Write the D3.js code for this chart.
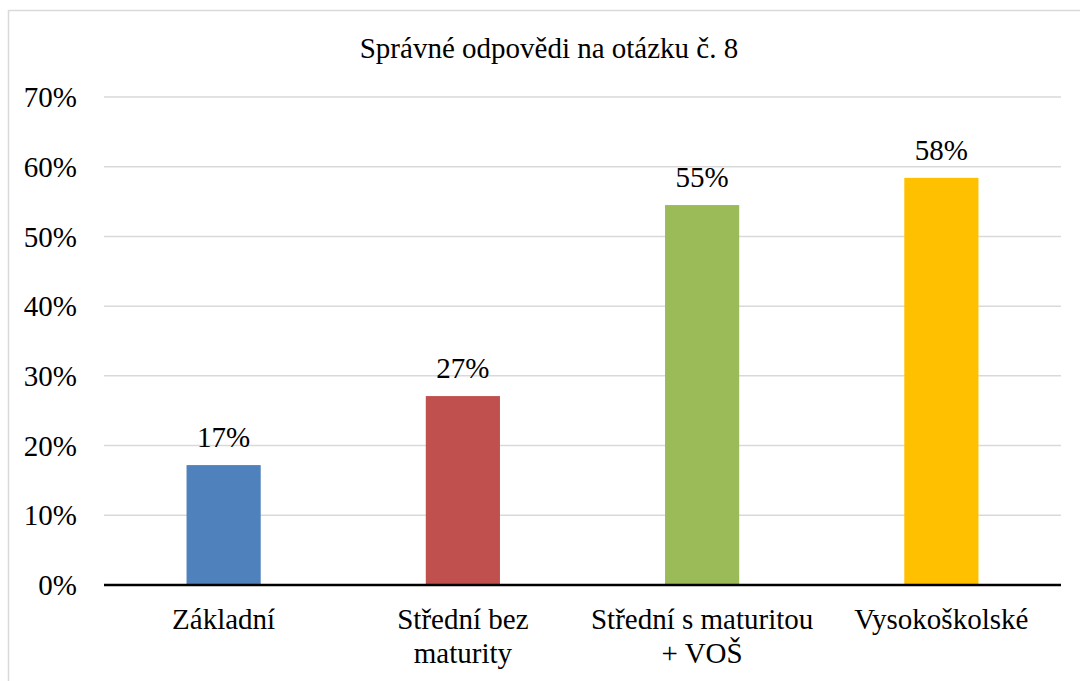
<!DOCTYPE html>
<html>
<head>
<meta charset="utf-8">
<script src="https://cdn.jsdelivr.net/npm/d3@7"></script>
<style>
  html, body { margin: 0; padding: 0; background: #fff; }
  svg text { font-family: 'Times New Roman', 'Liberation Serif', 'DejaVu Serif', serif; }
</style>
</head>
<body>
<div id="chart"></div>
<script>
const categories = [["Základní"], ["Střední bez", "maturity"], ["Střední s maturitou", "+ VOŠ"], ["Vysokoškolské"]]
const values = [0.172, 0.271, 0.545, 0.584]
const colors = ["#4f81bd", "#c0504d", "#9bbb59", "#ffc000"]
const yTicks = [0, 0.1, 0.2, 0.3, 0.4, 0.5, 0.6, 0.7]
const title = "Správné odpovědi na otázku č. 8"

const width = 1080
const height = 681
const margin = { top: 97, right: 19, bottom: 96, left: 104 }
const fontSize = 29

const svg = d3.select("#chart")
  .append("svg")
  .attr("width", width)
  .attr("height", height)

// chart frame
svg.append("rect")
  .attr("x", 8.5)
  .attr("y", 10.5)
  .attr("width", width)
  .attr("height", height)
  .attr("fill", "none")
  .attr("stroke", "#d9d9d9")
  .attr("stroke-width", 1.5)

const x = d3.scaleBand()
  .domain(d3.range(categories.length))
  .range([margin.left, width - margin.right])
  .paddingInner(0.69)
  .paddingOuter(0.345)

const y = d3.scaleLinear()
  .domain([0, 0.7])
  .range([height - margin.bottom, margin.top])

// gridlines
svg.append("g")
  .selectAll("line")
  .data(yTicks.filter(d => d > 0))
  .join("line")
  .attr("x1", margin.left)
  .attr("x2", width - margin.right)
  .attr("y1", d => y(d))
  .attr("y2", d => y(d))
  .attr("stroke", "#d9d9d9")
  .attr("stroke-width", 1.5)

// y tick labels
svg.append("g")
  .selectAll("text")
  .data(yTicks)
  .join("text")
  .attr("x", 77)
  .attr("y", d => y(d))
  .attr("dy", "0.35em")
  .attr("text-anchor", "end")
  .attr("font-size", fontSize)
  .attr("fill", "#000")
  .text(d => d3.format(".0%")(d))

// bars
svg.append("g")
  .selectAll("rect")
  .data(values)
  .join("rect")
  .attr("x", (d, i) => x(i))
  .attr("width", x.bandwidth())
  .attr("y", d => y(d))
  .attr("height", d => y(0) - y(d))
  .attr("fill", (d, i) => colors[i])

// value labels
svg.append("g")
  .selectAll("text")
  .data(values)
  .join("text")
  .attr("x", (d, i) => x(i) + x.bandwidth() / 2)
  .attr("y", d => y(d) - 18)
  .attr("text-anchor", "middle")
  .attr("font-size", fontSize)
  .attr("fill", "#000")
  .text(d => d3.format(".0%")(d))

// zero axis
svg.append("line")
  .attr("x1", margin.left)
  .attr("x2", width - margin.right)
  .attr("y1", y(0))
  .attr("y2", y(0))
  .attr("stroke", "#000")
  .attr("stroke-width", 2.5)

// category labels
const catG = svg.append("g")
  .selectAll("text")
  .data(categories)
  .join("text")
  .attr("x", (d, i) => x(i) + x.bandwidth() / 2)
  .attr("y", 629)
  .attr("text-anchor", "middle")
  .attr("font-size", fontSize)
  .attr("fill", "#000")

catG.selectAll("tspan")
  .data(d => d)
  .join("tspan")
  .attr("x", function () { return d3.select(this.parentNode).attr("x") })
  .attr("dy", (d, i) => i === 0 ? 0 : 34)
  .text(d => d)

// title
svg.append("text")
  .attr("x", 549)
  .attr("y", 58)
  .attr("text-anchor", "middle")
  .attr("font-size", fontSize)
  .attr("fill", "#000")
  .text(title)
</script>
</body>
</html>
